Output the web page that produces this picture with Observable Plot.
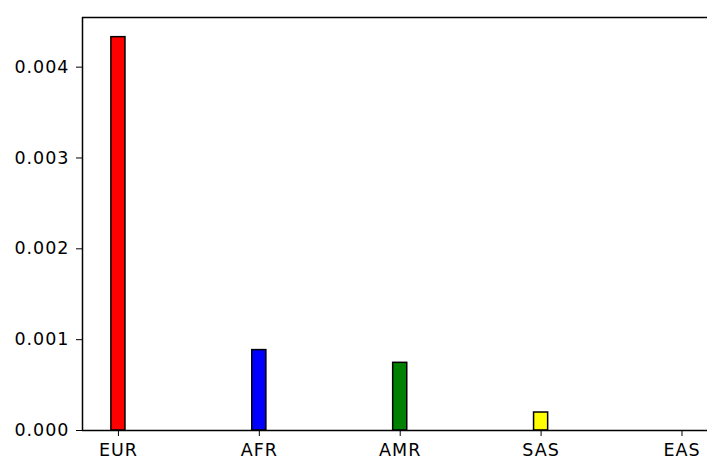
<!DOCTYPE html>
<html>
<head>
<meta charset="utf-8">
<script src="https://cdn.jsdelivr.net/npm/d3@7"></script>
<script src="https://cdn.jsdelivr.net/npm/@observablehq/plot@0.6"></script>
<style>
  html, body { margin: 0; padding: 0; background: #fff; }
  svg { display: block; }
  svg text { letter-spacing: 1px; }
</style>
</head>
<body>
<div id="chart"></div>
<script>
const categories = ["EUR", "AFR", "AMR", "SAS", "EAS"];
const values = [0.00433, 0.000885, 0.000745, 0.000198, 0];
const colors = ["#ff0000", "#0000ff", "#008000", "#ffff00", "#000000"];
const yTicks = [0, 0.001, 0.002, 0.003, 0.004];

const data = categories.map((c, i) => ({ cat: c, i, value: values[i], color: colors[i] }));

const barWidth = 0.1;
const xMin = -0.255;
const xMaxVisible = 4.181;
const yMax = d3.max(values) * 1.05;

const chart = Plot.plot({
  width: 707,
  height: 459,
  marginLeft: 82,
  marginRight: 0,
  marginTop: 17,
  marginBottom: 29,
  style: { fontFamily: "DejaVu Sans", fontSize: "17.5px", color: "#000", background: "#fff" },
  x: { type: "linear", domain: [xMin, xMaxVisible], ticks: categories.map((c, i) => i), tickFormat: i => categories[i], label: null, tickSize: 6, tickPadding: 7 },
  y: { domain: [0, yMax], ticks: yTicks, tickFormat: d3.format(".3f"), label: null, tickSize: 6, tickPadding: 7 },
  marks: [
    Plot.rectY(data, { x1: d => d.i - barWidth / 2, x2: d => d.i + barWidth / 2, y: "value", fill: "color", stroke: "#000", strokeWidth: 1.5 }),
    Plot.ruleX([xMin], { stroke: "#000", strokeWidth: 1.5 }),
    Plot.ruleY([0], { stroke: "#000", strokeWidth: 1.5 }),
    Plot.ruleY([yMax], { stroke: "#000", strokeWidth: 1.5 })
  ]
});
document.getElementById("chart").appendChild(chart);
</script>
</body>
</html>
